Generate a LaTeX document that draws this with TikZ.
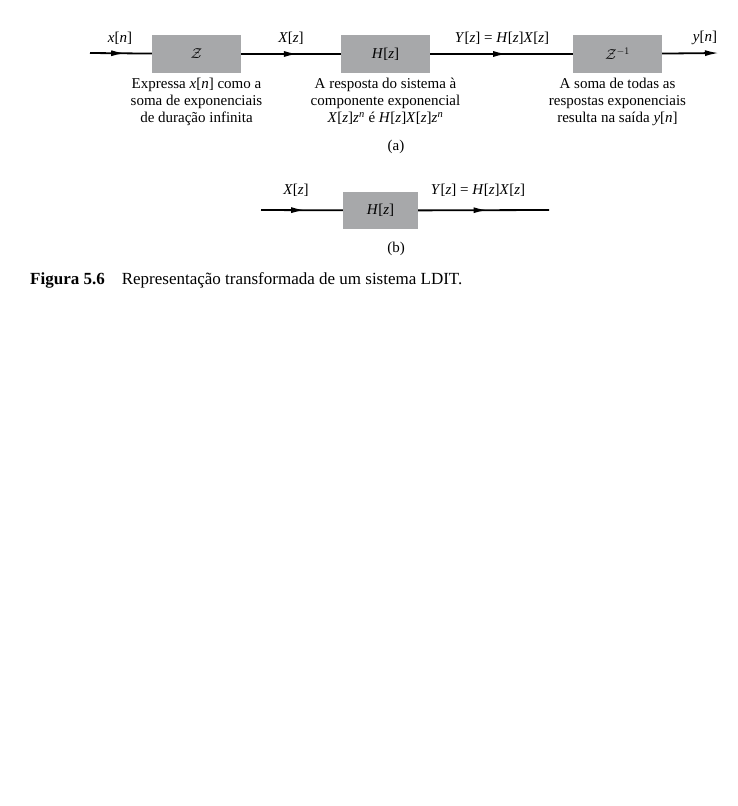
\documentclass[tikz,border=0pt]{standalone}
\usepackage{fontspec}
\setmainfont{Liberation Serif}
\usetikzlibrary{arrows.meta,decorations.markings}
\newcommand\mi[1]{\textit{#1}}
\definecolor{boxgray}{HTML}{A7A8AA}
\tikzset{
  blk/.style={draw=none,fill=boxgray,minimum width=89pt,minimum height=38pt,inner sep=0pt,font=\fontsize{15}{17}\selectfont},
  lbl/.style={inner sep=0pt,font=\fontsize{15}{17}\selectfont},
  desc/.style={inner sep=0pt,align=center,font=\fontsize{15}{17}\selectfont},
  sig/.style={line width=1.8pt},
  tipstyle/.style={-{Latex[length=14pt,width=6pt]}},
  mid/.style={sig,postaction={decorate},decoration={markings,mark=at position #1 with {\arrow{Latex[length=14pt,width=6pt]}}}}
}
\begin{document}
\begin{tikzpicture}[x=1pt,y=-1pt]
\useasboundingbox (0,0) rectangle (737,806);
% (a)
\coordinate (ain) at (90,53);
\coordinate (aout) at (719,53);
\node[blk] (z1) at (196.5,54) {\Large$\mathcal{Z}$};
\node[blk] (h1) at (385.5,54) {\mi{H}[\mi{z}]};
\node[blk] (z2) at (617.5,54) {\Large$\mathcal{Z}^{-1}$};
\draw[mid=0.57] (ain) -- (z1);
\draw[mid=0.57] (z1) -- (h1);
\draw[mid=0.54] (h1) -- (z2);
\draw[sig,tipstyle] (z2) -- (aout);
\node[lbl] (lx) at (120,38) {\mi{x}[\mi{n}]};
\node[lbl] (lX) at (291,38) {\mi{X}[\mi{z}]};
\node[lbl] (lY) at (502,38) {\mi{Y}[\mi{z}] = \mi{H}[\mi{z}]\mi{X}[\mi{z}]};
\node[lbl] (ly) at (705,38) {\mi{y}[\mi{n}]};
\node[desc,anchor=north] (d1) at (196.5,78) {Expressa \mi{x}[\mi{n}] como a\\soma de exponenciais\\de duração infinita};
\node[desc,anchor=north] (d2) at (385.5,78) {A resposta do sistema à\\componente exponencial\\\mi{X}[\mi{z}]\mi{z}\textsuperscript{\mi{n}} é \mi{H}[\mi{z}]\mi{X}[\mi{z}]\mi{z}\textsuperscript{\mi{n}}};
\node[desc,anchor=north] (d3) at (617.5,78) {A soma de todas as\\respostas exponenciais\\resulta na saída \mi{y}[\mi{n}]};
\node[lbl] (ca) at (396,147) {(a)};
% (b)
\coordinate (bin) at (261,210);
\coordinate (bout) at (549,210);
\node[blk,minimum width=75pt,minimum height=37pt] (h2) at (380.5,210.5) {\mi{H}[\mi{z}]};
\draw[mid=0.54] (bin) -- (h2);
\draw[mid=0.53] (h2) -- (bout);
\node[lbl] (bX) at (296,190) {\mi{X}[\mi{z}]};
\node[lbl] (bY) at (478,190) {\mi{Y}[\mi{z}] = \mi{H}[\mi{z}]\mi{X}[\mi{z}]};
\node[lbl] (cb) at (396,249) {(b)};
% caption
\node[inner sep=0pt,anchor=base west,font=\fontsize{17}{19}\selectfont] (cap) at (30,284) {\textbf{Figura 5.6}\hspace{17pt}Representação transformada de um sistema LDIT.};
\end{tikzpicture}
\end{document}
